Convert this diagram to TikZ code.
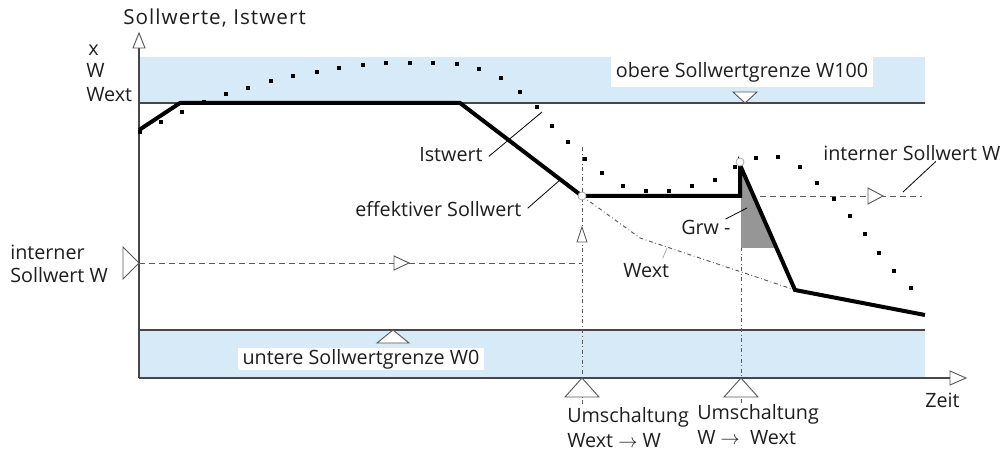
\documentclass[tikz,border=0pt]{standalone}
\usepackage{fontspec}
\setmainfont{Open Sans}
\newfontfamily\titlefont[LetterSpace=5]{Open Sans}
\definecolor{band}{RGB}{214,234,248}
\definecolor{axis}{RGB}{70,70,75}
\definecolor{txt}{RGB}{30,30,30}
\definecolor{dgray}{RGB}{90,90,90}
\definecolor{grayfill}{RGB}{150,150,150}
\definecolor{lgray}{RGB}{170,170,170}
\begin{document}
\begin{tikzpicture}[x=0.75pt,y=-0.75pt,
  lbl/.style={font=\fontsize{14.8}{17}\selectfont, text=txt, inner sep=0pt},
  boxlbl/.style={lbl, fill=white, inner xsep=3.75pt, text height=11pt, text depth=3.4pt},
  axisline/.style={draw=axis, line width=1.2pt},
  sollw/.style={draw=black, line width=3pt, line join=miter},
  dashh/.style={draw=dgray, dash pattern=on 4.5pt off 3pt, line width=0.7pt},
  dashdot/.style={draw=dgray, dash pattern=on 3pt off 2pt on 0.6pt off 2pt, line width=0.7pt},
  leader/.style={draw=black, line width=0.6pt},
  opentri/.style={draw=dgray, fill=white, line width=0.7pt, line join=miter},
  ringmark/.style={circle, draw=lgray, fill=white, line width=0.6pt, minimum size=6pt, inner sep=0pt}]

\useasboundingbox (0,0) rectangle (1001,452);

% bands
\fill[band] (139,57) rectangle (925,103);
\fill[band] (139,330) rectangle (925,378);
\draw[axisline] (139,103) -- (925,103);
\draw[axisline] (139,330) -- (925,330);

% axes
\coordinate (O) at (139,378);
\draw[axisline] (O) -- (139,48);
\draw[axisline] (O) -- (950,378);
\draw[opentri] (133,48) -- (139,33) -- (145,48) -- cycle;
\draw[opentri] (950,371) -- (966,378) -- (950,385) -- cycle;

% band labels and markers
\node[boxlbl, inner ysep=4pt] (obere) at (742,72) {obere Sollwertgrenze W100};
\draw[opentri] (733,92) -- (757,92) -- (745,103) -- cycle;
\node[boxlbl, inner ysep=1.1pt] (untere) at (361,359) {untere Sollwertgrenze W0};
\draw[opentri] (377,343) -- (409,343) -- (393,330) -- cycle;

% internal setpoint W dashed
\coordinate (Wint) at (139,263);
\coordinate (S1) at (582,196);
\coordinate (S2) at (740,196);
\draw[dashh] (Wint) -- (582,263);
\draw[opentri] (123,247) -- (139,263) -- (123,279) -- cycle;
\draw[opentri] (394,256) -- (409,263) -- (394,270) -- cycle;
\draw[dashh] (S2) -- (922,196);
\draw[opentri] (868,188) -- (883,196) -- (868,204) -- cycle;

% switching verticals
\draw[dashdot] (582,147) -- (582,405);
\draw[dashdot] (741,166) -- (741,405);
\draw[opentri] (577,242) -- (582,227) -- (587,242) -- cycle;
\draw[opentri] (565,397) -- (582,378) -- (599,397) -- cycle;
\draw[opentri] (724,397) -- (741,378) -- (758,397) -- cycle;

% Wext dash-dot curve
\draw[dashdot] (S1) -- (640,238) -- (795,290);

% Grw shaded
\fill[grayfill] (741,166) -- (741,248) -- (776,248) -- cycle;

% effective setpoint
\draw[sollw] (139,130) -- (180,103) -- (460,103) -- (S1) -- (S2) -- (740,165) -- (795,290) -- (925,315);

% actual value dots
\foreach \x/\y in {140/132,161/122,182/112,204/102,226/94,248/88,271/81,293/76,317/72,339/68,363/65,386/63,410/63,433/63,457/64,479/69,501/78,520/92,537/107,552/126,568/142,585/159,602/173,623/186,646/191,669/191,692/186,715/180,735/167,756/158,778/157,800/167,817/183,834/199,850/216,865/234,879/253,894/271,911/288}
  \fill[black] (\x-2,\y-2) rectangle (\x+2,\y+2);

\node[ringmark] (c1) at (582,196) {};
\node[ringmark] (c2) at (740,162) {};

% texts
\node[lbl, anchor=base west, font=\titlefont\fontsize{15.5}{17}\selectfont] (ylab) at (123,25) {Sollwerte, Istwert};
\node[lbl, anchor=base west] (lx) at (88,56) {x};
\node[lbl, anchor=base west] (lw) at (86,78) {W};
\node[lbl, anchor=base west] (lwext) at (86,102) {Wext};
\node[lbl, anchor=north west, align=left, font=\fontsize{14.8}{17}\selectfont] (intL) at (10,245) {interner\\Sollwert W};
\node[lbl, anchor=base west] (intR) at (823,161) {interner Sollwert W};
\node[lbl, anchor=base west] (ist) at (419,162) {Istwert};
\node[lbl, anchor=base west] (eff) at (355,217) {effektiver Sollwert};
\node[lbl, anchor=base west] (grw) at (681,235) {Grw -};
\node[lbl, anchor=base west] (wextc) at (623,278) {Wext};
\node[lbl, anchor=base west] (zeit) at (925,408) {Zeit};
\node[lbl, anchor=north west, align=left, font=\fontsize{14.8}{18.75}\selectfont] (umA) at (567,407) {Umschaltung\\Wext $\rightarrow$ W};
\node[lbl, anchor=north west, align=left, font=\fontsize{14.8}{18.75}\selectfont] (umB) at (697,404) {Umschaltung\\W $\rightarrow$\ \ Wext};

% leaders
\coordinate (pIst) at (542,112);
\coordinate (pEff) at (560,180);
\coordinate (pGrw) at (747,208);
\coordinate (pWext) at (667,248);
\coordinate (pInt) at (903,192);
\draw[leader] ([xshift=4.5pt,yshift=-1pt]ist.east) -- (pIst);
\draw[leader] ([xshift=4.5pt,yshift=1pt]eff.east) -- (pEff);
\draw[leader] ([xshift=-4pt,yshift=1pt]grw.north east) -- (pGrw);
\draw[leader, draw=lgray] ([xshift=-5pt,yshift=4pt]wextc.north east) -- (pWext);
\draw[leader] ([xshift=18pt]intR.south) -- (pInt);
\end{tikzpicture}
\end{document}
